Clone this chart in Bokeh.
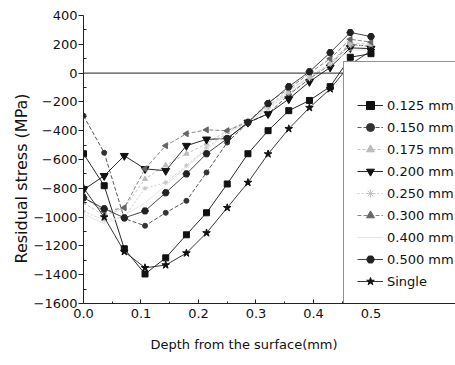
import math
from bokeh.plotting import figure
from bokeh.models import Range1d, FixedTicker, PrintfTickFormatter, Span, Legend, LegendItem, Title
from bokeh.embed import file_html
from bokeh.resources import INLINE

# Depth from the surface (mm)
depth = [0.0, 0.036, 0.071, 0.107, 0.143, 0.179, 0.214, 0.25, 0.286, 0.321, 0.357, 0.393, 0.429, 0.464, 0.5]

# Residual stress (MPa) per series
s125 = [-560, -782, -1220, -1395, -1283, -1123, -970, -770, -560, -400, -261, -190, -94, 110, 135]
s150 = [-296, -553, -1010, -1060, -970, -887, -690, -482, -345, -283, -150, -40, 60, 200, 185]
s175 = [-900, -990, -935, -735, -640, -560, -490, -400, -330, -230, -120, -30, 70, 210, 200]
s200 = [-810, -713, -574, -665, -678, -504, -460, -455, -343, -283, -180, -60, 40, 175, 170]
s250 = [-960, -1020, -1000, -800, -760, -643, -520, -410, -345, -250, -140, -40, 60, 190, 190]
s300 = [-860, -960, -935, -665, -504, -421, -394, -400, -340, -205, -110, 0, 100, 235, 215]
s400 = [-978, -1046, -990, -900, -780, -650, -530, -420, -340, -240, -130, -20, 60, 160, 160]
s500 = [-866, -942, -1005, -957, -831, -700, -560, -455, -343, -212, -94, 10, 142, 282, 254]
single = [-796, -1000, -1240, -1352, -1333, -1250, -1110, -935, -760, -562, -387, -240, -110, 60, 155]

labels = ["0.125 mm", "0.150 mm", "0.175 mm", "0.200 mm", "0.250 mm",
          "0.300 mm", "0.400 mm", "0.500 mm", "Single"]
values = [s125, s150, s175, s200, s250, s300, s400, s500, single]

x_ticks = [0.0, 0.1, 0.2, 0.3, 0.4, 0.5]
y_ticks = [400, 200, 0, -200, -400, -600, -800, -1000, -1200, -1400, -1600]

# styles: marker, size, marker colour, line colour, dash, angle
styles = [
    ("square", 6, "#111111", "#111111", "solid", 0.0),
    ("circle", 5, "#333333", "#444444", "4 2", 0.0),
    ("triangle", 5, "#bbbbbb", "#bbbbbb", "3 2", 0.0),
    ("inverted_triangle", 8, "#111111", "#111111", "solid", 0.0),
    ("asterisk", 5, "#c4c4c4", "#c8c8c8", "2 2", 0.0),
    ("triangle", 6, "#666666", "#777777", "4 2", math.pi / 2),
    (None, 0, "#e2e2e2", "#e2e2e2", "solid", 0.0),
    ("hex", 7, "#222222", "#333333", "solid", 0.0),
    ("star", 8, "#111111", "#222222", "solid", 0.0),
]

FONT = "DejaVu Sans"

p = figure(width=455, height=365, output_backend="svg", toolbar_location=None,
           x_range=Range1d(0, 0.647), y_range=Range1d(-1600, 400),
           min_border_left=83, min_border_right=0, min_border_top=15, min_border_bottom=62)
p.title.visible = False
p.grid.visible = False
p.outline_line_color = None
p.background_fill_color = "white"
p.border_fill_color = "white"

p.xaxis.ticker = FixedTicker(ticks=x_ticks, minor_ticks=[0.05, 0.15, 0.25, 0.35, 0.45])
p.xaxis.formatter = PrintfTickFormatter(format="%.1f")
p.yaxis.ticker = FixedTicker(ticks=y_ticks, minor_ticks=[300, 100, -100, -300, -500, -700, -900, -1100, -1300, -1500])

for ax in (p.xaxis[0], p.yaxis[0]):
    ax.axis_line_color = "#222222"
    ax.axis_line_width = 1
    ax.major_tick_line_color = "#222222"
    ax.minor_tick_line_color = "#222222"
    ax.major_label_text_font = FONT
    ax.major_label_text_font_size = "13px"
    ax.major_label_text_color = "#111111"

p.xaxis.major_tick_in = 4
p.xaxis.major_tick_out = 0
p.xaxis.minor_tick_in = 2
p.xaxis.minor_tick_out = 0
p.xaxis.major_label_standoff = 5

p.yaxis.major_tick_in = 0
p.yaxis.major_tick_out = 5
p.yaxis.minor_tick_in = 3
p.yaxis.minor_tick_out = 0
p.yaxis.major_label_standoff = 1

# small spacer between the x axis and its title
p.add_layout(Title(text="\u00a0", text_font_size="7px", standoff=0), "below")
# Axis titles placed as side titles so they can sit where the original has them
p.add_layout(Title(text="Depth from the surface(mm)", align="left", offset=67,
                   text_font=FONT, text_font_size="13px", text_font_style="normal",
                   text_color="#111111"), "below")
p.add_layout(Title(text="Residual stress (MPa)", align="left", offset=40,
                   text_font=FONT, text_font_size="16px", text_font_style="normal",
                   text_color="#111111", standoff=0), "left")

p.add_layout(Span(location=0, dimension="width", line_color="#222222", line_width=1))

items = []
for name, vals, (marker, size, mcol, lcol, dash, ang) in zip(labels, values, styles):
    rs = [p.line(depth, vals, line_color=lcol, line_width=0.9, line_dash=dash)]
    if marker:
        rs.append(p.scatter(depth, vals, marker=marker, size=size, fill_color=mcol,
                            line_color=mcol, angle=ang))
    items.append(LegendItem(label=name, renderers=rs))

legend = Legend(items=items, location=(260, -2))
legend.title = " "
legend.title_text_font_size = "13px"
legend.title_standoff = 5
legend.padding = 13
legend.spacing = 2
legend.glyph_width = 26
legend.glyph_height = 20
legend.label_height = 20
legend.label_standoff = 4
legend.label_text_font = FONT
legend.label_text_font_size = "13px"
legend.label_text_color = "#111111"
legend.border_line_color = "#222222"
legend.border_line_width = 1
legend.background_fill_color = "white"
legend.background_fill_alpha = 1.0
p.add_layout(legend)

open("out.html", "w").write(file_html(p, INLINE))
